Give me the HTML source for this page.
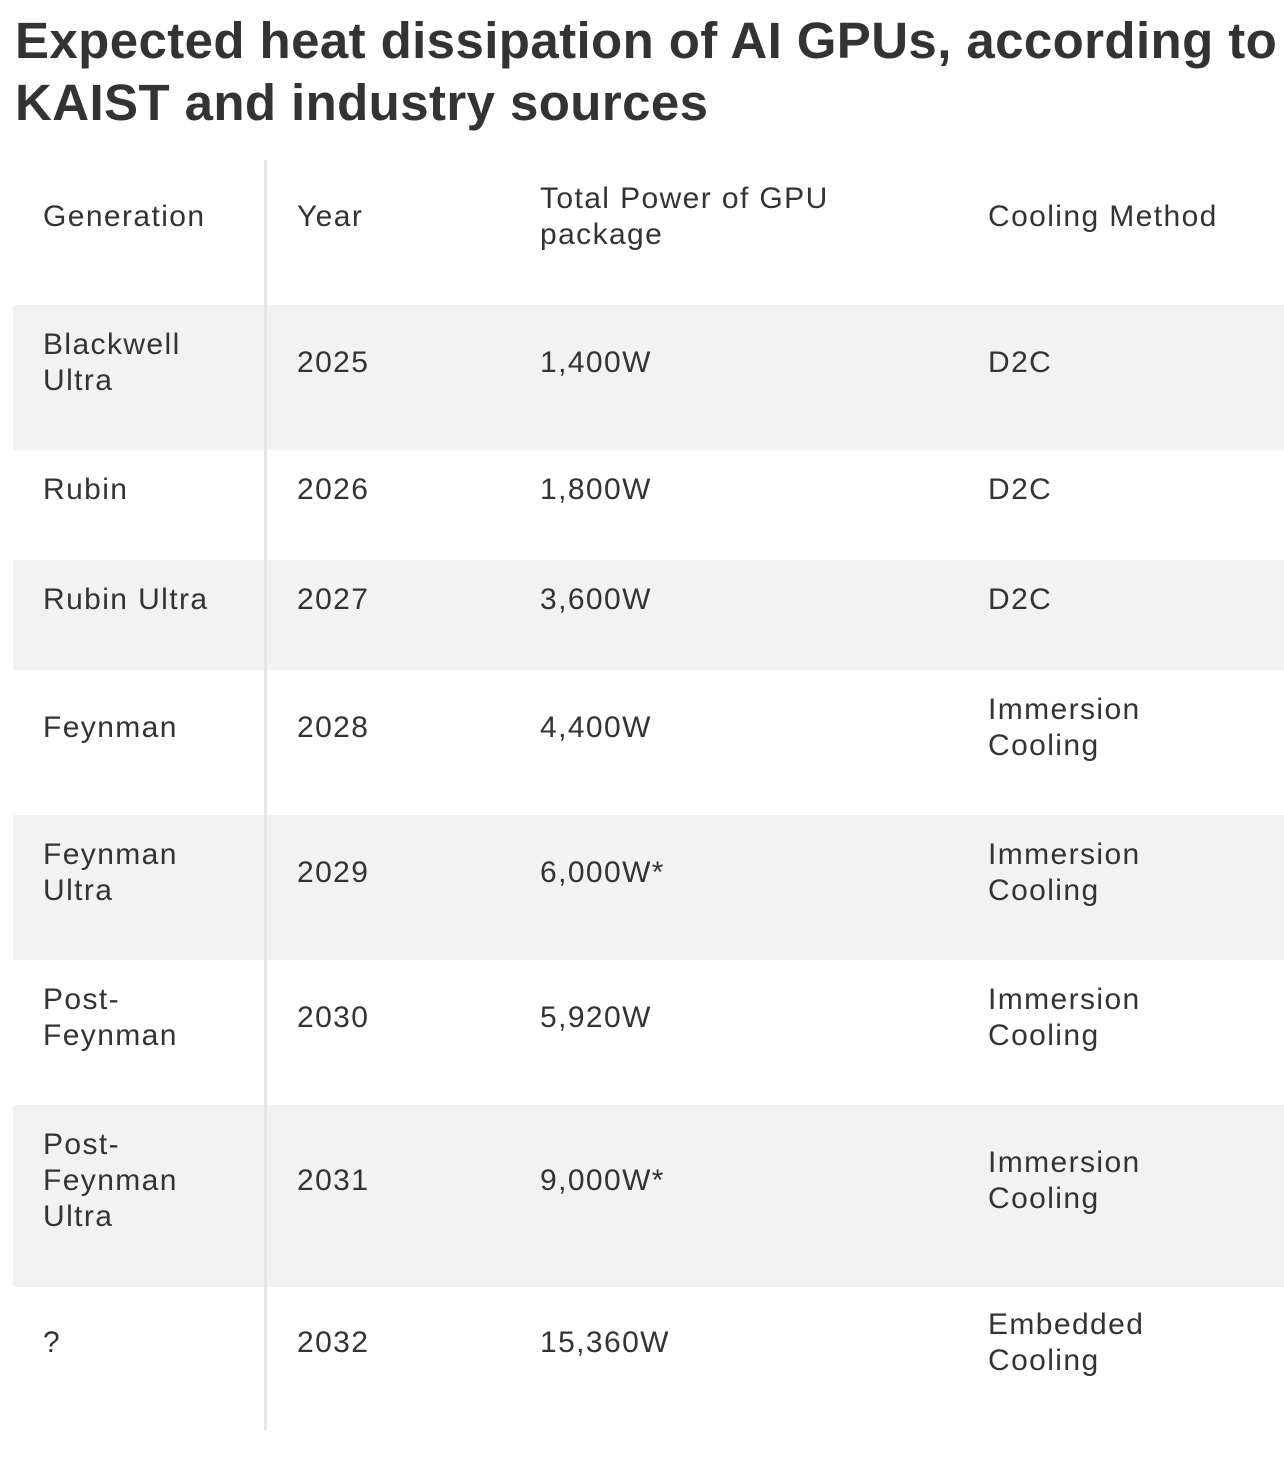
<!DOCTYPE html>
<html><head><meta charset="utf-8"><style>
body{margin:0;width:1284px;height:1474px;background:#fff;font-family:"Liberation Sans",sans-serif;color:#333;position:relative;overflow:hidden}
h1{position:absolute;left:15px;top:10px;margin:0;font-size:51px;line-height:62px;font-weight:bold;color:#333;white-space:nowrap;letter-spacing:0.4px}
.row{position:absolute;left:13px;width:1271px}
.g{background:#f2f2f2}
.c{position:absolute;font-size:30px;line-height:36px;letter-spacing:1.4px;transform:translateY(-50%);white-space:nowrap}
.vl{position:absolute;left:264px;top:160px;width:3px;height:1270px;background:#e6e6e6}
</style></head><body>
<h1>Expected heat dissipation of AI GPUs, according to<br>KAIST and industry sources</h1>
<div class="row g" style="top:305px;height:145px"></div>
<div class="row g" style="top:560px;height:110px"></div>
<div class="row g" style="top:815px;height:145px"></div>
<div class="row g" style="top:1105px;height:182px"></div>
<div class="vl"></div>

<div class="c" style="left:43px;top:217px">Generation</div>
<div class="c" style="left:297px;top:217px">Year</div>
<div class="c" style="left:540px;top:217px">Total Power of GPU<br>package</div>
<div class="c" style="left:988px;top:217px">Cooling Method</div>

<div class="c" style="left:43px;top:363px">Blackwell<br>Ultra</div>
<div class="c" style="left:297px;top:363px">2025</div>
<div class="c" style="left:540px;top:363px">1,400W</div>
<div class="c" style="left:988px;top:363px">D2C</div>

<div class="c" style="left:43px;top:490px">Rubin</div>
<div class="c" style="left:297px;top:490px">2026</div>
<div class="c" style="left:540px;top:490px">1,800W</div>
<div class="c" style="left:988px;top:490px">D2C</div>

<div class="c" style="left:43px;top:600px">Rubin Ultra</div>
<div class="c" style="left:297px;top:600px">2027</div>
<div class="c" style="left:540px;top:600px">3,600W</div>
<div class="c" style="left:988px;top:600px">D2C</div>

<div class="c" style="left:43px;top:728px">Feynman</div>
<div class="c" style="left:297px;top:728px">2028</div>
<div class="c" style="left:540px;top:728px">4,400W</div>
<div class="c" style="left:988px;top:728px">Immersion<br>Cooling</div>

<div class="c" style="left:43px;top:873px">Feynman<br>Ultra</div>
<div class="c" style="left:297px;top:873px">2029</div>
<div class="c" style="left:540px;top:873px">6,000W*</div>
<div class="c" style="left:988px;top:873px">Immersion<br>Cooling</div>

<div class="c" style="left:43px;top:1018px">Post-<br>Feynman</div>
<div class="c" style="left:297px;top:1018px">2030</div>
<div class="c" style="left:540px;top:1018px">5,920W</div>
<div class="c" style="left:988px;top:1018px">Immersion<br>Cooling</div>

<div class="c" style="left:43px;top:1181px">Post-<br>Feynman<br>Ultra</div>
<div class="c" style="left:297px;top:1181px">2031</div>
<div class="c" style="left:540px;top:1181px">9,000W*</div>
<div class="c" style="left:988px;top:1181px">Immersion<br>Cooling</div>

<div class="c" style="left:43px;top:1343px">?</div>
<div class="c" style="left:297px;top:1343px">2032</div>
<div class="c" style="left:540px;top:1343px">15,360W</div>
<div class="c" style="left:988px;top:1343px">Embedded<br>Cooling</div>
</body></html>
